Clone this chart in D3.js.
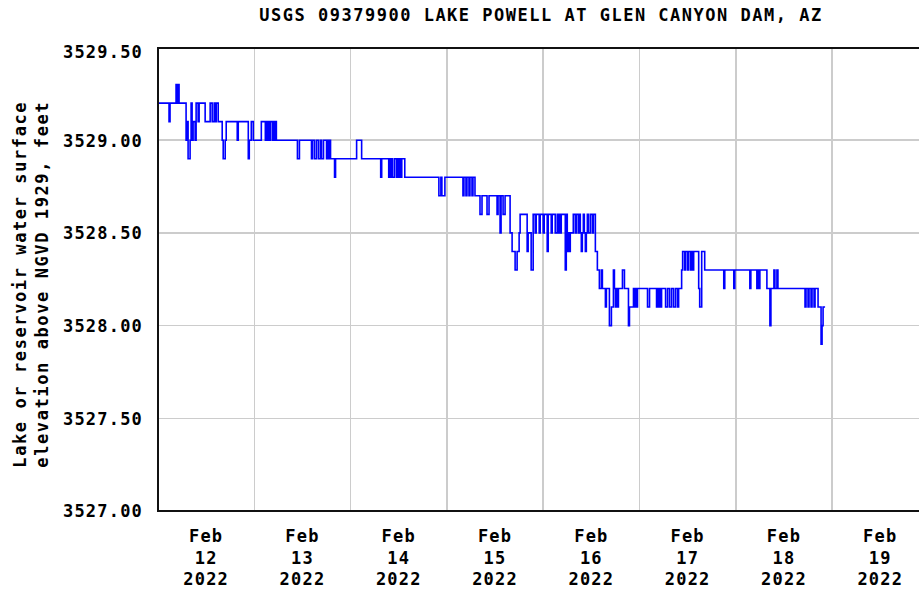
<!DOCTYPE html>
<head>
  <title>USGS 09379900 Lake Powell at Glen Canyon Dam</title>
  <style>
    body { margin: 0; background: #fff; }
    text {
      font-family: "DejaVu Sans Mono", monospace;
      font-weight: bold;
      font-size: 17px;
      fill: #000;
    }
    .grid line { stroke: #cccccc; stroke-width: 1.5; shape-rendering: crispEdges; }
    .frame { stroke: #111; stroke-width: 2; shape-rendering: crispEdges; }
  </style>
</head>
<body>
  <script src="https://cdn.jsdelivr.net/npm/d3@7"></script>
  <script>
    // chart text
    var title = "USGS 09379900 LAKE POWELL AT GLEN CANYON DAM, AZ";
    var yLabel = ["Lake or reservoir water surface", "elevation above NGVD 1929, feet"];

    // tick values
    var yTicks = [3527.0, 3527.5, 3528.0, 3528.5, 3529.0, 3529.5];
    var dayTicks = [12, 13, 14, 15, 16, 17, 18, 19];   // Feb 2022

    // 15-minute readings (step changes only), hours after Feb 12 2022 00:00
    var hoursSinceFeb12 = [
      0, 2.75, 3, 4.5, 4.75, 5, 5.25, 7, 7.25, 7.5, 8, 8.25, 8.5, 8.75, 9.25, 9.5, 10, 10.25, 11.75,
      13, 13.5, 14, 14.25, 14.5, 15, 16, 16.25, 16.75, 17, 19.75, 20, 22.5, 22.75, 23.25, 23.75,
      25.75, 26.75, 27, 27.25, 27.5, 27.75, 28, 28.5, 28.75, 29, 29.25, 29.5, 34.75, 35.25,
      38.25, 38.5, 39, 39.5, 40, 40.5, 40.75, 41.25, 42, 42.25, 42.5, 42.75, 43, 44, 44.25,
      49.5, 50.75, 55.5, 55.75, 57.5, 57.75, 58, 58.25, 58.5, 59, 59.5, 59.75, 60, 60.25, 60.5, 60.75, 61.5,
      70, 70.5, 70.75, 71.5, 76, 76.25, 76.75, 77, 77.5, 77.75, 78.25, 78.5, 79, 80.25, 80.75,
      82, 82.5, 84.5, 84.75, 85.25, 85.5, 86, 86.5, 87.75, 88.25, 89, 89.5, 90, 90.25,
      92, 92.25, 93, 93.5, 94, 94.25, 95, 95.25, 96, 96.25, 97, 97.25, 98, 98.25, 99, 99.5, 99.75,
      100, 100.25, 100.5, 101.5, 101.75, 102, 102.25, 102.5, 102.75, 103.5, 104, 104.25, 104.75,
      105, 105.25, 105.5, 105.75, 106, 106.25, 106.5, 106.75, 107, 107.25, 107.75, 108.25, 108.5,
      109, 109.5, 110, 110.5, 110.75, 111.5, 111.75, 112.5, 113, 113.5, 113.75, 114, 114.25, 114.5, 114.75,
      115.75, 116.25, 117.25, 117.5, 118.5, 118.75, 119, 119.25, 119.5, 122, 122.5,
      124.25, 124.5, 124.75, 125, 125.25, 125.5, 126.5, 127, 127.5, 128, 128.5, 129, 129.5, 129.75,
      130.5, 130.75, 131.25, 131.5, 132, 132.25, 132.75, 133, 133.25, 133.5, 134.75, 135, 135.5, 136.25,
      141, 141.25, 143.5, 143.75, 147.5, 147.75, 149.25, 149.5, 149.75, 150, 151.75, 152.5, 152.75,
      153.5, 153.75, 154.25, 154.5, 161.25, 161.5, 162, 162.25, 162.75, 163, 163.5, 163.75,
      164.5, 165.25, 165.5, 165.75, 166.25
    ];
    var elevation = [
      3529.2, 3529.1, 3529.2, 3529.3, 3529.2, 3529.3, 3529.2, 3529.0, 3529.1, 3528.9, 3529.0, 3529.2, 3529.0, 3529.1, 3529.0, 3529.2, 3529.1, 3529.2, 3529.1,
      3529.2, 3529.1, 3529.2, 3529.1, 3529.2, 3529.1, 3529.0, 3528.9, 3529.0, 3529.1, 3529.0, 3529.1, 3528.9, 3529.0, 3529.1, 3529.0,
      3529.1, 3529.0, 3529.1, 3529.0, 3529.1, 3529.0, 3529.1, 3529.0, 3529.1, 3529.0, 3529.1, 3529.0, 3528.9, 3529.0,
      3528.9, 3529.0, 3528.9, 3529.0, 3528.9, 3529.0, 3528.9, 3529.0, 3528.9, 3529.0, 3528.9, 3529.0, 3528.9, 3528.8, 3528.9,
      3529.0, 3528.9, 3528.8, 3528.9, 3528.8, 3528.9, 3528.8, 3528.9, 3528.8, 3528.9, 3528.8, 3528.9, 3528.8, 3528.9, 3528.8, 3528.9, 3528.8,
      3528.7, 3528.8, 3528.7, 3528.8, 3528.7, 3528.8, 3528.7, 3528.8, 3528.7, 3528.8, 3528.7, 3528.8, 3528.7, 3528.6, 3528.7,
      3528.6, 3528.7, 3528.6, 3528.7, 3528.5, 3528.7, 3528.6, 3528.7, 3528.5, 3528.4, 3528.3, 3528.4, 3528.5, 3528.6,
      3528.4, 3528.5, 3528.3, 3528.6, 3528.5, 3528.6, 3528.5, 3528.6, 3528.5, 3528.6, 3528.4, 3528.6, 3528.5, 3528.6, 3528.5, 3528.6, 3528.5,
      3528.6, 3528.5, 3528.6, 3528.3, 3528.6, 3528.4, 3528.5, 3528.4, 3528.5, 3528.6, 3528.5, 3528.6, 3528.5,
      3528.6, 3528.5, 3528.4, 3528.5, 3528.6, 3528.5, 3528.4, 3528.5, 3528.6, 3528.5, 3528.6, 3528.5, 3528.6,
      3528.4, 3528.3, 3528.2, 3528.3, 3528.2, 3528.1, 3528.2, 3528.0, 3528.1, 3528.3, 3528.2, 3528.1, 3528.2, 3528.1, 3528.2,
      3528.3, 3528.2, 3528.0, 3528.1, 3528.2, 3528.1, 3528.2, 3528.1, 3528.2, 3528.1, 3528.2,
      3528.1, 3528.2, 3528.1, 3528.2, 3528.1, 3528.2, 3528.1, 3528.2, 3528.1, 3528.2, 3528.1, 3528.2, 3528.1, 3528.2,
      3528.3, 3528.4, 3528.3, 3528.4, 3528.3, 3528.4, 3528.3, 3528.4, 3528.3, 3528.4, 3528.2, 3528.1, 3528.4, 3528.3,
      3528.2, 3528.3, 3528.2, 3528.3, 3528.2, 3528.3, 3528.2, 3528.3, 3528.2, 3528.3, 3528.2, 3528.0, 3528.2,
      3528.3, 3528.2, 3528.3, 3528.2, 3528.1, 3528.2, 3528.1, 3528.2, 3528.1, 3528.2, 3528.1, 3528.2,
      3528.1, 3527.9, 3528.0, 3528.1, 3528.1
    ];

    var svg_width = 919, svg_height = 590;
    var left = 158, top_ = 47.5, bottom = 511;
    var dayWidth = 96.3;

    var start = Date.UTC(2022, 1, 12);
    var hourMs = 3600 * 1000;

    var data = hoursSinceFeb12.map(function (h, i) {
      return { t: new Date(start + h * hourMs), v: elevation[i] };
    });

    var svg = d3.select("body").append("svg")
      .attr("width", svg_width)
      .attr("height", svg_height);

    var x = d3.scaleUtc()
      .domain([new Date(start), new Date(Date.UTC(2022, 1, 20))])
      .range([left, left + 8 * dayWidth]);

    var y = d3.scaleLinear()
      .domain([3527, 3529.5])
      .range([bottom, top_]);

    // grid
    var grid = svg.append("g").attr("class", "grid");
    grid.selectAll(".vg")
      .data(dayTicks.slice(1).concat([20]))
      .enter().append("line")
      .attr("x1", function (d) { return x(new Date(Date.UTC(2022, 1, d))); })
      .attr("x2", function (d) { return x(new Date(Date.UTC(2022, 1, d))); })
      .attr("y1", top_).attr("y2", bottom);
    grid.selectAll(".hg")
      .data(yTicks.slice(1, -1))
      .enter().append("line")
      .attr("x1", left).attr("x2", svg_width)
      .attr("y1", function (d) { return y(d); })
      .attr("y2", function (d) { return y(d); });

    // series
    svg.append("clipPath").attr("id", "clip")
      .append("rect").attr("x", left).attr("y", top_).attr("width", svg_width - left).attr("height", bottom - top_);

    var line = d3.line()
      .x(function (d) { return x(d.t); })
      .y(function (d) { return y(d.v); })
      .curve(d3.curveStepAfter);

    svg.append("path")
      .datum(data)
      .attr("clip-path", "url(#clip)")
      .attr("fill", "none")
      .attr("stroke", "#0000ff")
      .attr("stroke-width", 1.6)
      .attr("d", line);

    // frame
    svg.append("line").attr("class", "frame").attr("x1", left).attr("x2", svg_width).attr("y1", top_).attr("y2", top_);
    svg.append("line").attr("class", "frame").attr("x1", left).attr("x2", svg_width).attr("y1", bottom).attr("y2", bottom);
    svg.append("line").attr("class", "frame").attr("x1", left).attr("x2", left).attr("y1", top_ - 1).attr("y2", bottom + 1);

    // y axis
    var yAxis = d3.axisLeft(y).tickValues(yTicks).tickSize(0).tickPadding(15).tickFormat(d3.format(".2f"));
    var yg = svg.append("g").attr("transform", "translate(" + left + ",0)").call(yAxis);
    yg.select(".domain").remove();
    yg.selectAll("text")
      .attr("font-size", null).attr("font-family", null)
      .style("letter-spacing", "1.2px")
      .attr("dy", function (d) { return d === 3529.5 ? "0.6em" : "0.35em"; });

    // x axis (labels centred on each day)
    var xg = svg.append("g").attr("transform", "translate(0," + bottom + ")");
    var labels = xg.selectAll("text")
      .data(dayTicks)
      .enter().append("text")
      .attr("text-anchor", "middle")
      .style("letter-spacing", "1.2px")
      .attr("transform", function (d) {
        return "translate(" + x(new Date(Date.UTC(2022, 1, d, 12))) + ",0)";
      });
    labels.append("tspan").attr("x", 0).attr("y", 31).text("Feb");
    labels.append("tspan").attr("x", 0).attr("y", 52.5).text(function (d) { return d; });
    labels.append("tspan").attr("x", 0).attr("y", 74).text("2022");

    // title
    svg.append("text")
      .attr("x", 541).attr("y", 21)
      .attr("text-anchor", "middle")
      .style("letter-spacing", "1.5px")
      .text(title);

    // y label
    var yl = svg.append("text")
      .attr("transform", "translate(0," + ((top_ + bottom) / 2 + 5) + ") rotate(-90)")
      .attr("text-anchor", "middle")
      .style("letter-spacing", "1.6px");
    yl.append("tspan").attr("x", 0).attr("y", 26).text(yLabel[0]);
    yl.append("tspan").attr("x", 0).attr("y", 48).text(yLabel[1]);
  </script>
</body>
